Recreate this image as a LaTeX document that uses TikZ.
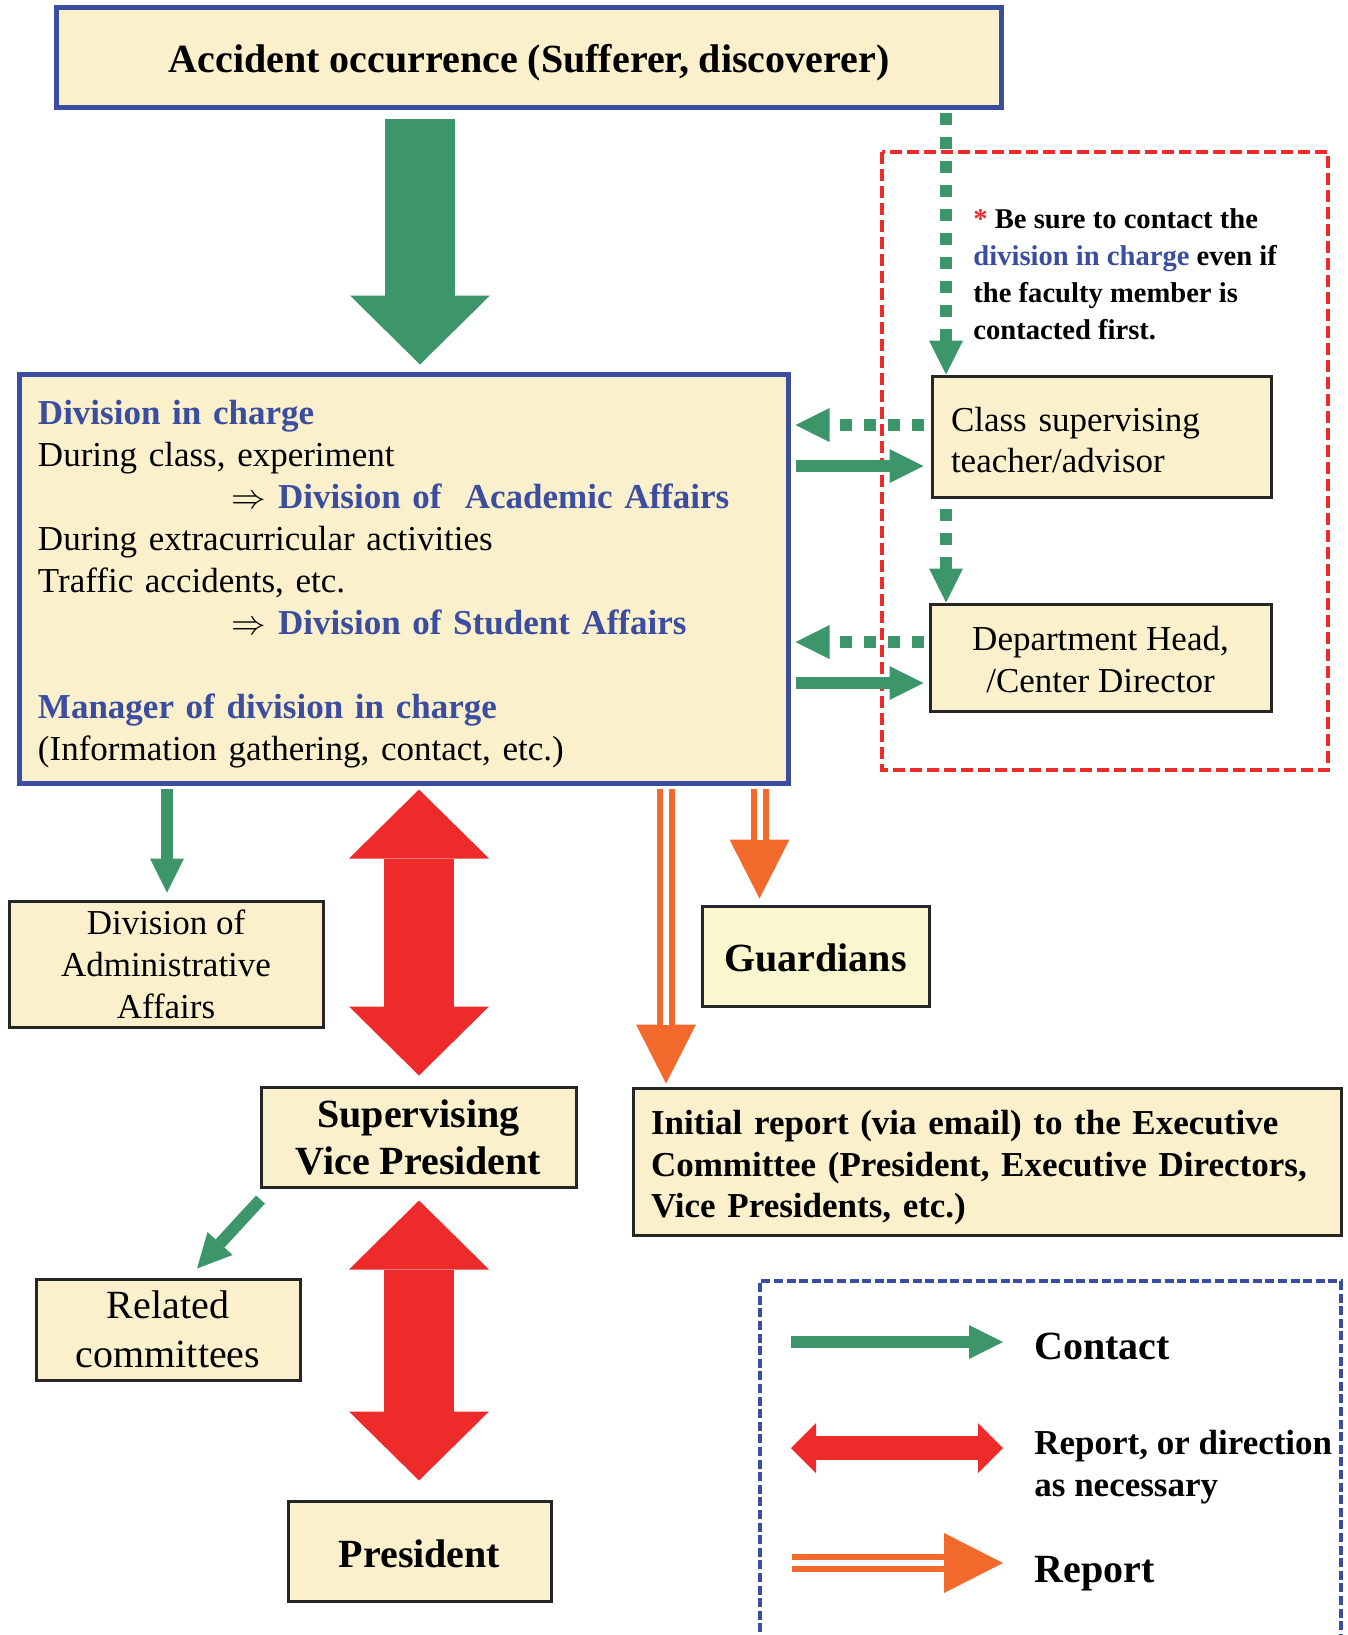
\documentclass[tikz,border=0pt]{standalone}
\usepackage{fontspec}
\setmainfont{Liberation Serif}
\usepackage{tikz}
\usetikzlibrary{positioning, arrows.meta}

\definecolor{cream}{HTML}{FBF0CC}
\definecolor{paleyellow}{HTML}{FAF7CE}
\definecolor{deepblue}{HTML}{3A4DA0}
\definecolor{leafgreen}{HTML}{3D9669}
\definecolor{alarmred}{HTML}{EE2B2B}
\definecolor{tangerine}{HTML}{F26A2B}

\begin{document}
\begin{tikzpicture}[x=0.5pt, y=-0.5pt]
    % Styles
    \tikzstyle{box} = [draw=black!85, line width=1.5pt, fill=cream, inner sep=0pt,
                       align=center, font=\fontsize{17.5}{21}\selectfont]
    \tikzstyle{blue box} = [box, draw=deepblue, line width=2.5pt]
    \tikzstyle{bold box} = [box, font=\fontsize{20}{23.5}\selectfont\bfseries]
    \tikzstyle{key text} = [inner sep=0pt, align=left, font=\fontsize{20}{24}\selectfont\bfseries]
    \tikzstyle{contact} = [leafgreen, line width=6pt,
                           -{Triangle[length=17pt, width=17pt, line width=0pt]}]
    \tikzstyle{contact dots} = [contact, dash pattern=on 6pt off 6pt]
    \tikzstyle{contact big} = [leafgreen, line width=35pt,
                               -{Triangle[length=34.5pt, width=70pt, line width=0pt]}]
    \tikzstyle{direction} = [alarmred, line width=35pt,
                             {Triangle[length=34.5pt, width=70pt, line width=0pt]}-{Triangle[length=34.5pt, width=70pt, line width=0pt]}]
    \tikzstyle{direction key} = [alarmred, line width=12pt,
                                 {Triangle[length=12.5pt, width=25pt, line width=0pt]}-{Triangle[length=12.5pt, width=25pt, line width=0pt]}]
    \tikzstyle{report} = [tangerine, line width=9pt,
                          -{Triangle[length=29.5pt, width=30pt, line width=0pt]},
                          postaction={draw=white, line width=3pt, -, shorten >=29.5pt}]

    \useasboundingbox (0,0) rectangle (1348,1635);

    % Frames
    \draw[alarmred, line width=1.8pt, dash pattern=on 6pt off 2.5pt] (882,152) rectangle (1328,770);
    \draw[deepblue, line width=1.6pt, dash pattern=on 4.5pt off 1.8pt]
        (760,1645) -- (760,1281) -- (1341,1281) -- (1341,1645);

    % Nodes
    \node[blue box, minimum width=472.5pt, minimum height=50pt,
          font=\fontsize{20}{24}\selectfont\bfseries] (accident) at (529,57.5)
        {\rule{0pt}{19pt}Accident occurrence (Sufferer, discoverer)};
    \node[blue box, align=left, text width=366pt, inner xsep=9.25pt,
          minimum height=204.5pt] (charge) at (404,579)
        {\rule{0pt}{17.5pt}\textcolor{deepblue}{\bfseries Division in charge}\\
         During class, experiment\\
         \hspace*{97pt}$\Rightarrow$ \textcolor{deepblue}{\bfseries Division of\ \ Academic Affairs}\\
         During extracurricular activities\\
         Traffic accidents, etc.\\
         \hspace*{97pt}$\Rightarrow$ \textcolor{deepblue}{\bfseries Division of Student Affairs}\\
         \mbox{}\\
         \textcolor{deepblue}{\bfseries Manager of division in charge}\\
         (Information gathering, contact, etc.)};
    \node[anchor=north west, inner sep=0pt, align=left,
          font=\fontsize{14.3}{18.5}\selectfont\bfseries] (note) at (973,208)
        {\textcolor{alarmred}{*} Be sure to contact the\\
         \textcolor{deepblue}{division in charge} even if\\
         the faculty member is\\
         contacted first.};
    \node[box, align=left, text width=150.5pt, inner xsep=9.5pt, minimum height=60.5pt,
          font=\fontsize{17.5}{20.5}\selectfont] (teacher) at (1101.5,436.5)
        {\rule{0pt}{15.5pt}Class supervising\\ teacher/advisor};
    \node[box, minimum width=170.5pt, minimum height=53.5pt] (head) at (1100.5,657.5)
        {\rule{0pt}{14pt}Department Head,\\ /Center Director};
    \node[box, minimum width=157pt, minimum height=63pt] (admin) at (166,964)
        {Division of\\ Administrative\\ Affairs};
    \node[bold box, fill=paleyellow, minimum width=113.5pt, minimum height=50pt] (guard) at (815.5,956)
        {\rule{0pt}{16pt}Guardians};
    \node[bold box, minimum width=157.5pt, minimum height=50pt] (vp) at (418.5,1137)
        {Supervising\\ Vice President};
    \node[box, align=left, text width=336pt, inner xsep=9pt, minimum height=73.5pt,
          font=\fontsize{17.5}{20.75}\selectfont\bfseries] (initial) at (987,1161.5)
        {\rule{0pt}{18.5pt}Initial report (via email) to the Executive\\
         Committee (President, Executive Directors,\\
         Vice Presidents, etc.)};
    \node[box, minimum width=132pt, minimum height=50.5pt,
          font=\fontsize{20}{24.5}\selectfont] (related) at (168,1329.5)
        {Related\\ committees};
    \node[bold box, minimum width=131.5pt, minimum height=50pt] (president) at (419.5,1551)
        {\rule{0pt}{16.5pt}President};

    % Key
    \node[key text, anchor=base west] (key contact) at (1034,1359) {Contact};
    \node[key text, anchor=north west, font=\fontsize{17.5}{21}\selectfont\bfseries] (key direction) at (1034,1430)
        {Report, or direction\\ as necessary};
    \node[key text, anchor=base west] (key report) at (1034,1582) {Report};
    \coordinate (contact from) at (791,1342);
    \coordinate (contact to) at (1003,1342);
    \coordinate (direction from) at (791,1448);
    \coordinate (direction to) at (1003,1448);
    \coordinate (report from) at (792,1563);
    \coordinate (report to) at (1003,1563);

    % Edges
    \draw[contact big] ([shift={(-109,8.5)}]accident.south) -- ([shift={(16,-7.5)}]charge.north);
    \draw[contact dots] ([shift={(417,3)}]accident.south) -- ([shift={(-155.5,0)}]teacher.north);
    \draw[contact dots] ([shift={(-7,-11.5)}]teacher.west) -- ([shift={(4.5,-154)}]charge.east);
    \draw[contact] ([shift={(4.5,-113)}]charge.east) -- ([shift={(-7,29.5)}]teacher.west);
    \draw[contact dots] ([shift={(-155.5,10)}]teacher.south) -- ([shift={(-154.5,0)}]head.north);
    \draw[contact dots] ([shift={(-5,-15.5)}]head.west) -- ([shift={(4.5,63)}]charge.east);
    \draw[contact] ([shift={(4.5,104)}]charge.east) -- ([shift={(-5,25.5)}]head.west);
    \draw[contact] ([shift={(-237,2.5)}]charge.south) -- ([shift={(1,-7)}]admin.north);
    \draw[direction] ([shift={(15,3.5)}]charge.south) -- ([shift={(0.5,-10)}]vp.north);
    \draw[report] ([shift={(262,3)}]charge.south) -- ([shift={(-321,-3)}]initial.north);
    \draw[report] ([shift={(355.5,3)}]charge.south) -- ([shift={(-56,-6)}]guard.north);
    \draw[contact] ([shift={(1,11)}]vp.south west) -- ([shift={(29,-9)}]related.north);
    \draw[direction] ([shift={(0.5,12)}]vp.south) -- ([shift={(-0.5,-19)}]president.north);
    \draw[contact] (contact from) -- (contact to);
    \draw[direction key] (direction from) -- (direction to);
    \draw[report] (report from) -- (report to);
\end{tikzpicture}
\end{document}
